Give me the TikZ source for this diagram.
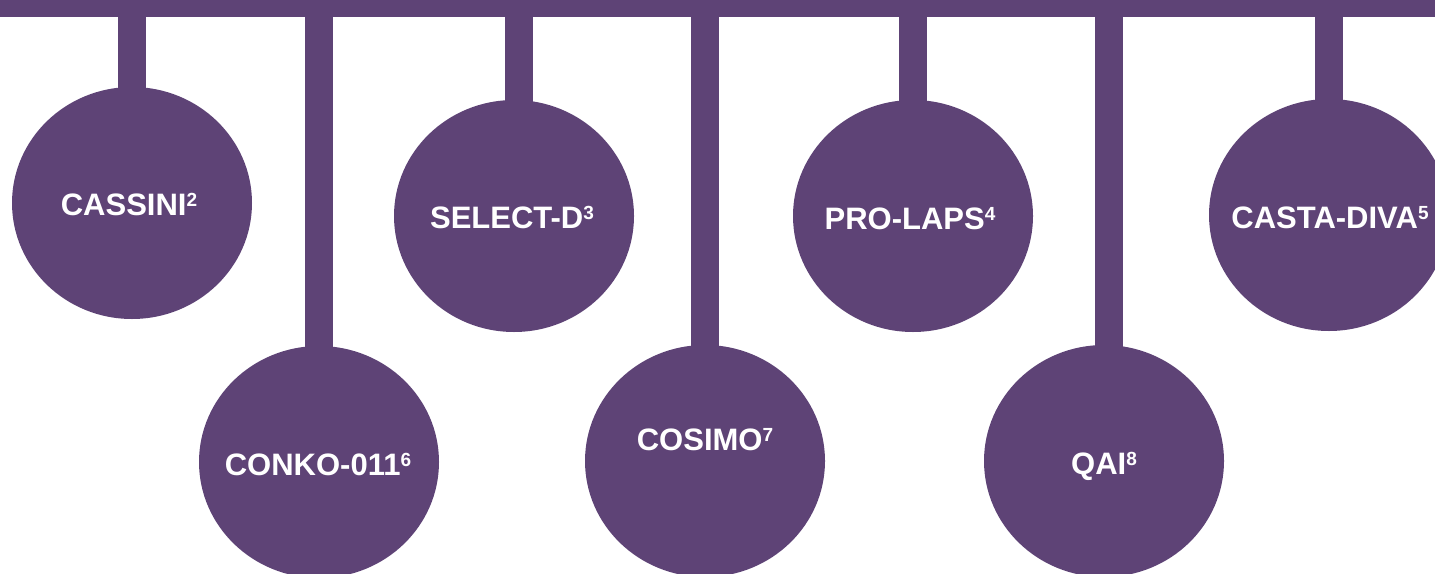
\documentclass[tikz,border=0pt]{standalone}
\usepackage{fontspec}
\setmainfont{Liberation Sans}
\usetikzlibrary{shapes.geometric}
\definecolor{trialpurple}{RGB}{94,67,118}
\newcommand{\refmark}[1]{\raisebox{8.6pt}{\fontsize{19}{19}\selectfont #1}}

\begin{document}
\begin{tikzpicture}[x=1pt, y=-1pt, font=\fontsize{31}{36}\selectfont\bfseries,
		trial/.style={ellipse, fill=trialpurple, minimum width=240pt, minimum height=232pt, inner sep=0pt},
		triallabel/.style={text=white, anchor=base, inner sep=0pt},
		stem/.style={draw=trialpurple, line width=28pt}]
		\clip (0,0) rectangle (1435,573);
		\useasboundingbox (0,0) rectangle (1435,573);
		% top bar
		\node (bar) [fill=trialpurple, minimum width=1435pt, minimum height=16.5pt, inner sep=0pt, anchor=north west] at (0,0) {};
		% upper row
		\node (cassini) [trial] at (132,203) {};
		\node (selectd) [trial] at (514,216) {};
		\node (prolaps) [trial] at (913,216) {};
		\node (castadiva) [trial] at (1329,215) {};
		% lower row
		\node (conko) [trial] at (319,462) {};
		\node (cosimo) [trial] at (705,461) {};
		\node (qai) [trial] at (1104,461) {};
		% stems
		\draw[stem] (cassini.center |- bar.center) -- (cassini.center);
		\draw[stem] (conko.center |- bar.center) -- (conko.center);
		\draw[stem] ([xshift=5pt]selectd.center |- bar.center) -- ([xshift=5pt]selectd.center);
		\draw[stem] (cosimo.center |- bar.center) -- (cosimo.center);
		\draw[stem] (prolaps.center |- bar.center) -- (prolaps.center);
		\draw[stem] ([xshift=5pt]qai.center |- bar.center) -- ([xshift=5pt]qai.center);
		\draw[stem] (castadiva.center |- bar.center) -- (castadiva.center);
		% labels
		\node (cassinilabel) [triallabel, xshift=-3pt, yshift=-12pt] at (cassini.center) {CASSINI\refmark{2}};
		\node (selectdlabel) [triallabel, xshift=-2pt, yshift=-12pt] at (selectd.center) {SELECT-D\refmark{3}};
		\node (prolapslabel) [triallabel, xshift=-3pt, yshift=-13pt] at (prolaps.center) {PRO-LAPS\refmark{4}};
		\node (castadivalabel) [triallabel, xshift=1pt, yshift=-13pt] at (castadiva.center) {CASTA-DIVA\refmark{5}};
		\node (conkolabel) [triallabel, xshift=-1pt, yshift=-13pt] at (conko.center) {CONKO-011\refmark{6}};
		\node (cosimolabel) [triallabel, yshift=11pt] at (cosimo.center) {COSIMO\refmark{7}};
		\node (qailabel) [triallabel, yshift=-13pt] at (qai.center) {QAI\refmark{8}};
\end{tikzpicture}
\end{document}
